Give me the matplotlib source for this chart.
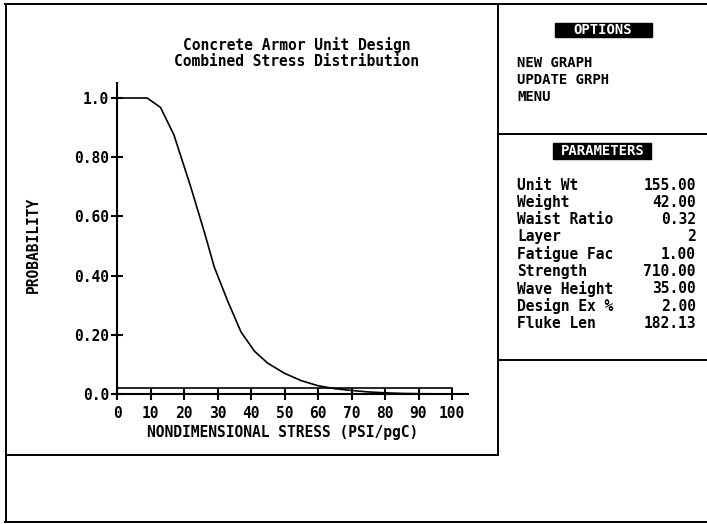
import matplotlib
matplotlib.use("Agg")
import matplotlib.pyplot as plt
from matplotlib.patches import Rectangle
from matplotlib.ticker import FixedLocator, FixedFormatter

# curve
stress = [0, 9, 13, 17, 22, 26, 29, 33, 37, 41, 45, 50, 55, 60, 65, 70, 75, 80, 85, 90, 95, 100]
prob = [1.0, 1.0, 0.968, 0.875, 0.70, 0.55, 0.43, 0.315, 0.21, 0.145, 0.104, 0.07,
        0.045, 0.028, 0.018, 0.012, 0.007, 0.004, 0.002, 0.001, 0.0005, 0.0]

design_ex = 2.00  # percent -> horizontal line

x_ticks = [0, 10, 20, 30, 40, 50, 60, 70, 80, 90, 100]
y_ticks = [0.0, 0.2, 0.4, 0.6, 0.8, 1.0]
y_tick_labels = ["0.0", "0.20", "0.40", "0.60", "0.80", "1.0"]

options = ["NEW GRAPH", "UPDATE GRPH", "MENU"]
param_names = ["Unit Wt", "Weight", "Waist Ratio", "Layer", "Fatigue Fac",
               "Strength", "Wave Height", "Design Ex %", "Fluke Len"]
param_values = ["155.00", "42.00", "0.32", "2", "1.00", "710.00", "35.00", "2.00", "182.13"]

W, H = 707, 524
FONT = dict(family="DejaVu Sans Mono", weight="bold")

fig = plt.figure(figsize=(W / 100, H / 100), dpi=100)
fig.patch.set_facecolor("white")

# background axes in pixel coords for frames and side panel
bg = fig.add_axes([0, 0, 1, 1])
bg.set_xlim(0, W)
bg.set_ylim(H, 0)
bg.axis("off")

lw = 1.4
bg.plot([5, W], [4, 4], color="black", lw=lw)
bg.plot([6, 6], [4, 522], color="black", lw=lw)
bg.plot([5, W], [522, 522], color="black", lw=lw)
bg.plot([498, 498], [4, 455], color="black", lw=lw)
bg.plot([6, 498], [455, 455], color="black", lw=lw)
bg.plot([498, W], [134, 134], color="black", lw=lw)
bg.plot([498, W], [360, 360], color="black", lw=lw)

# title
bg.text(297, 45, "Concrete Armor Unit Design", ha="center", va="center", fontsize=10.5, **FONT)
bg.text(297, 62, "Combined Stress Distribution", ha="center", va="center", fontsize=10.5, **FONT)

# axis labels
bg.text(33, 245, "PROBABILITY", ha="center", va="center", rotation=90, fontsize=10.5, **FONT)
bg.text(283, 432, "NONDIMENSIONAL STRESS (PSI/pgC)", ha="center", va="center", fontsize=10.5, **FONT)

# options panel
bg.add_patch(Rectangle((555, 23), 97, 14, color="black"))
bg.text(603, 30.5, "OPTIONS", ha="center", va="center", color="white", fontsize=10, **FONT)
for i, s in enumerate(options):
    bg.text(517, 63 + i * 17, s, ha="left", va="center", fontsize=10, **FONT)

# parameters panel
bg.add_patch(Rectangle((553, 143), 98, 16, color="black"))
bg.text(603, 151, "PARAMETERS", ha="center", va="center", color="white", fontsize=10, **FONT)
for i, (n, v) in enumerate(zip(param_names, param_values)):
    y = 185 + i * 17.3
    bg.text(517, y, n, ha="left", va="center", fontsize=10.5, **FONT)
    bg.text(696, y, v, ha="right", va="center", fontsize=10.5, **FONT)

# the graph itself
x0, x100 = 117, 452
y0, y1 = 394, 98
xmax = (468 - x0) / (x100 - x0) * 100
ymax = (y0 - 83) / (y0 - y1)
ax = fig.add_axes([x0 / W, (H - y0) / H, (468 - x0) / W, (y0 - 83) / H])
ax.set_xlim(0, xmax)
ax.set_ylim(0, ymax)
ax.patch.set_alpha(0)
ax.plot(stress, prob, color="black", lw=1.2)
ax.plot([0, 100], [design_ex / 100, design_ex / 100], color="black", lw=1.2)

for s in ["top", "right"]:
    ax.spines[s].set_visible(False)
for s in ["left", "bottom"]:
    ax.spines[s].set_linewidth(1.5)

ax.xaxis.set_major_locator(FixedLocator(x_ticks))
ax.yaxis.set_major_locator(FixedLocator(y_ticks))
ax.yaxis.set_major_formatter(FixedFormatter(y_tick_labels))
ax.tick_params(direction="inout", length=9, width=1.5, colors="black")
ax.tick_params(axis="x", pad=4)
ax.tick_params(axis="y", pad=1)
for lab in ax.get_xticklabels() + ax.get_yticklabels():
    lab.set_fontfamily("DejaVu Sans Mono")
    lab.set_fontweight("bold")
    lab.set_fontsize(10.5)

fig.savefig("out.png", dpi=100)
